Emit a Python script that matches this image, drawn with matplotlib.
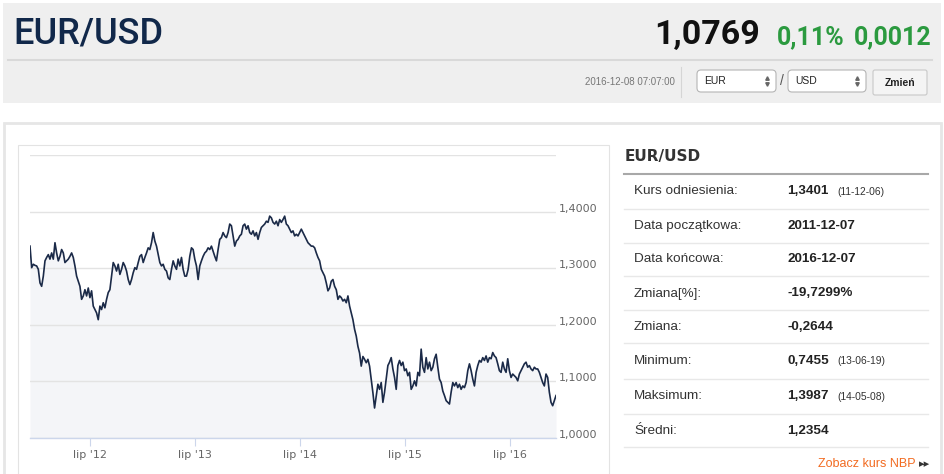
import pandas as pd
import matplotlib
matplotlib.use('Agg')
import matplotlib.pyplot as plt
from matplotlib.patches import Rectangle, FancyBboxPatch

# EUR/USD rate, evenly spaced from start to end date
rates = [
    1.339, 1.301, 1.307, 1.305, 1.304, 1.298, 1.274, 1.268, 1.286, 1.313,
    1.319, 1.324, 1.316, 1.327, 1.316, 1.345, 1.327, 1.313, 1.321, 1.333,
    1.327, 1.310, 1.313, 1.316, 1.321, 1.327, 1.319, 1.304, 1.286, 1.277,
    1.268, 1.245, 1.251, 1.262, 1.251, 1.265, 1.248, 1.260, 1.233, 1.227,
    1.221, 1.209, 1.233, 1.227, 1.239, 1.230, 1.245, 1.257, 1.262, 1.286,
    1.310, 1.304, 1.295, 1.307, 1.289, 1.298, 1.310, 1.304, 1.295, 1.280,
    1.271, 1.280, 1.292, 1.301, 1.298, 1.310, 1.321, 1.324, 1.310, 1.319,
    1.327, 1.336, 1.333, 1.345, 1.363, 1.348, 1.339, 1.324, 1.310, 1.304,
    1.307, 1.298, 1.295, 1.283, 1.280, 1.298, 1.313, 1.304, 1.298, 1.316,
    1.304, 1.319, 1.298, 1.286, 1.286, 1.298, 1.321, 1.336, 1.333, 1.316,
    1.304, 1.280, 1.304, 1.313, 1.321, 1.327, 1.330,
    1.336, 1.333, 1.339, 1.330, 1.321, 1.313, 1.333, 1.351, 1.354, 1.363,
    1.357, 1.354, 1.363, 1.378, 1.375, 1.357, 1.339, 1.348, 1.351, 1.357,
    1.360, 1.375, 1.378, 1.369, 1.375, 1.363, 1.360, 1.366, 1.357, 1.363,
    1.351, 1.363, 1.372, 1.375, 1.378, 1.383, 1.381, 1.392, 1.389, 1.381,
    1.378, 1.383, 1.375, 1.386, 1.381, 1.386, 1.392, 1.378, 1.375, 1.369,
    1.363, 1.366, 1.357, 1.360, 1.357, 1.363, 1.369, 1.363, 1.357, 1.351,
    1.345, 1.342, 1.339, 1.339, 1.336, 1.327, 1.319, 1.313, 1.298, 1.292,
    1.286, 1.274, 1.260, 1.265, 1.277, 1.280, 1.268, 1.262, 1.245, 1.251,
    1.248, 1.242, 1.245, 1.239, 1.251, 1.233, 1.221, 1.209, 1.192, 1.180,
    1.162, 1.150, 1.127, 1.144, 1.139, 1.133, 1.139, 1.127, 1.103, 1.080,
    1.053, 1.074,
    1.095, 1.086, 1.098, 1.063, 1.081, 1.104, 1.128, 1.134, 1.142, 1.122,
    1.107, 1.086, 1.128, 1.137, 1.128, 1.134, 1.119, 1.122, 1.110, 1.116,
    1.086, 1.092, 1.101, 1.092, 1.116, 1.110, 1.157, 1.125, 1.116, 1.142,
    1.122, 1.134, 1.119, 1.125, 1.140, 1.148, 1.125, 1.104, 1.098, 1.083,
    1.075, 1.066, 1.063, 1.060, 1.081, 1.098, 1.092, 1.098, 1.089, 1.095,
    1.086, 1.092, 1.089, 1.098, 1.119, 1.131, 1.119, 1.104, 1.092, 1.116,
    1.128, 1.137, 1.134, 1.142, 1.137, 1.145, 1.134, 1.142, 1.140, 1.151,
    1.145, 1.142, 1.131, 1.119, 1.116, 1.134, 1.122, 1.116, 1.140, 1.119,
    1.107, 1.113, 1.110, 1.107, 1.101, 1.113, 1.119, 1.125, 1.131, 1.134,
    1.125, 1.128, 1.122, 1.119, 1.125, 1.122, 1.122, 1.116, 1.107, 1.098,
    1.092, 1.113, 1.107, 1.081, 1.063, 1.057, 1.066, 1.075,
]
start_date = '2011-12-07'
end_date = '2016-12-07'

tick_dates = ['2012-07-01', '2013-07-01', '2014-07-01', '2015-07-01', '2016-07-01']
tick_labels = ["lip '12", "lip '13", "lip '14", "lip '15", "lip '16"]
y_ticks = [1.0, 1.1, 1.2, 1.3, 1.4, 1.5]
y_labels = ['1,0000', '1,1000', '1,2000', '1,3000', '1,4000', '']

pair = 'EUR/USD'
last_rate = '1,0769'
change_pct = '0,11%'
change_abs = '0,0012'
timestamp = '2016-12-08 07:07:00'

row_labels = ['Kurs odniesienia:', 'Data początkowa:', 'Data końcowa:', 'Zmiana[%]:',
              'Zmiana:', 'Minimum:', 'Maksimum:', 'Średni:']
row_values = ['1,3401', '2011-12-07', '2016-12-07', '-19,7299%',
              '-0,2644', '0,7455', '1,3987', '1,2354']
row_notes = ['(11-12-06)', '', '', '', '', '(13-06-19)', '(14-05-08)', '']

W, H = 945, 474
fig = plt.figure(figsize=(W / 100, H / 100), dpi=100)
fig.patch.set_facecolor('white')

# page layer in pixel coordinates
bg = fig.add_axes([0, 0, 1, 1])
bg.set_xlim(0, W)
bg.set_ylim(H, 0)
bg.axis('off')

# header
bg.add_patch(Rectangle((3, 3), 938, 100, fc='#efefef', ec='none'))
bg.text(13, 34, pair, fontsize=26, family='Roboto', fontweight='medium', color='#11284a', va='center')
bg.text(760, 35, last_rate, fontsize=24.5, family='Roboto', fontweight='bold', color='#111111',
        ha='right', va='center')
bg.text(777, 37, change_pct, fontsize=18, family='Roboto', fontweight='bold', color='#2b9a3f',
        ha='left', va='center')
bg.text(932, 37, change_abs, fontsize=18, family='Roboto', fontweight='bold', color='#2b9a3f',
        ha='right', va='center')
bg.plot([8, 932], [60, 60], color='#d9d9d9', lw=1.5)
bg.text(675, 82, timestamp, fontsize=7, family='Liberation Sans', color='#777777', ha='right', va='center')
bg.plot([681, 681], [67, 97], color='#d5d5d5', lw=0.8)

for x0, w, txt in [(697, 79, 'EUR'), (788, 78, 'USD')]:
    bg.add_patch(FancyBboxPatch((x0, 70), w, 22, boxstyle='round,pad=0,rounding_size=4',
                                fc='white', ec='#b5b5b5', lw=0.8))
    bg.text(x0 + 7, 81, txt, fontsize=7.5, family='Liberation Sans', color='#222222', va='center')
    bg.plot(x0 + w - 9, 78, marker='^', ms=2.5, color='#666666')
    bg.plot(x0 + w - 9, 84, marker='v', ms=2.5, color='#666666')
bg.text(782, 81, '/', fontsize=10, family='Liberation Sans', color='#555555', ha='center', va='center')
bg.add_patch(FancyBboxPatch((873, 70), 54, 25, boxstyle='round,pad=0,rounding_size=2',
                            fc='#f4f4f4', ec='#c8c8c8', lw=0.8))
bg.text(900, 83, 'Zmień', fontsize=7.5, family='Liberation Sans', fontweight='bold',
        color='#222222', ha='center', va='center')

# main panel and chart box
bg.add_patch(Rectangle((4, 123), 937, 360, fc='white', ec='#e6e6e6', lw=2))
bg.add_patch(Rectangle((18, 145), 591, 340, fc='white', ec='#e3e3e3', lw=0.8))

# right info table
bg.text(625, 157, pair, fontsize=11, fontweight='bold', color='#333333', va='center')
bg.plot([624, 928], [173.5, 173.5], color='#a8a8a8', lw=1.5)
row_y = [191.5, 226, 259.5, 293.5, 327, 361, 396, 431]
sep_y = [208.5, 242.5, 276, 309.5, 343, 378.5, 413.5, 446.5]
for i, lab in enumerate(row_labels):
    y = row_y[i]
    bg.text(634, y, lab, fontsize=9.7, family='Liberation Sans', color='#333333', va='center')
    bg.text(787, y, row_values[i], fontsize=9.7, family='Liberation Sans', fontweight='bold',
            color='#222222', va='center')
    if row_notes[i]:
        bg.text(837, y + 0.5, row_notes[i], fontsize=7.4, family='Liberation Sans',
                color='#333333', va='center')
    bg.plot([624, 928], [sep_y[i], sep_y[i]], color='#e8e8e8', lw=1)
bg.text(916, 464, 'Zobacz kurs NBP', fontsize=9, family='Liberation Sans', color='#f26b21',
        ha='right', va='center')
bg.text(919, 464, '▸▸', fontsize=8, color='#333333', ha='left', va='center')

# the chart
dates = pd.date_range(start_date, end_date, periods=len(rates))
ax = fig.add_axes([30 / W, 1 - 438 / H, 526 / W, 283 / H])
ax.set_facecolor('none')
ax.fill_between(dates, rates, 1.0, color='#f4f5f8', lw=0)
ax.plot(dates, rates, color='#1b2a48', lw=1.2)
ax.set_xlim(dates[0], dates[-1])
ax.set_ylim(1.0, 1.5)

ax.yaxis.tick_right()
ax.set_yticks(y_ticks)
ax.set_yticklabels(y_labels)
ax.tick_params(axis='y', length=0, pad=2, labelsize=8, labelcolor='#666666')
for lbl in ax.get_yticklabels():
    lbl.set_va('baseline')
ax.grid(axis='y', color='#e3e3e3', lw=1)

ax.set_xticks(pd.to_datetime(tick_dates))
ax.set_xticklabels(tick_labels)
ax.tick_params(axis='x', length=6, width=0.8, color='#ccd6eb', pad=3,
               labelsize=8, labelcolor='#666666')
for side in ['top', 'left', 'right']:
    ax.spines[side].set_visible(False)
ax.spines['bottom'].set_color('#ccd6eb')
ax.spines['bottom'].set_linewidth(1)

fig.savefig('out.png', dpi=100)
